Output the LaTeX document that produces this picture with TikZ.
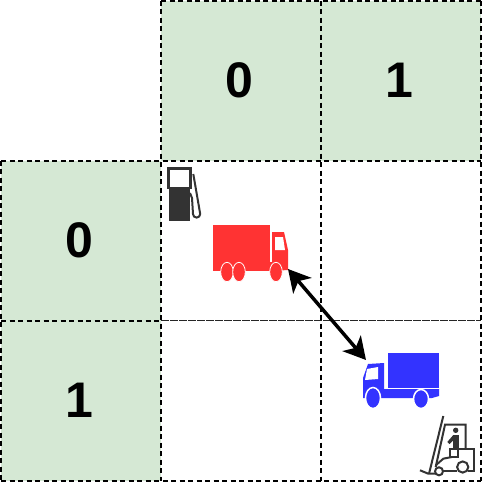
\documentclass[tikz,border=0pt]{standalone}
\usepackage{fontspec}
\setmainfont{Liberation Sans}
\usetikzlibrary{arrows.meta}
\definecolor{headergreen}{HTML}{D5E8D4}
\definecolor{truckred}{HTML}{FF3333}
\definecolor{truckblue}{HTML}{3333FF}
\definecolor{icongray}{HTML}{333333}
\tikzset{
  cell/.style={minimum size=160pt, inner sep=0pt, outer sep=0pt},
  header/.style={cell, fill=headergreen, font=\fontsize{50}{50}\selectfont\bfseries},
  gridline/.style={draw=black, line width=2pt, dash pattern=on 5pt off 3.5pt},
  denseline/.style={draw=black!85, line width=1.5pt, dash pattern=on 8pt off 1pt},
  iconline/.style={draw=icongray, line width=2pt, fill=none},
  linkarrow/.style={{Stealth[length=22pt,width=24pt,inset=6pt]}-{Stealth[length=22pt,width=24pt,inset=6pt]}, line width=3.5pt},
}
\begin{document}
\begin{tikzpicture}[x=1pt,y=-1pt]
\useasboundingbox (0,0) rectangle (482,482);
% Draw header cells
\node[header] (top0) at (241,80.5) {\hspace*{-3pt}0};
\node[header] (top1) at (401,80.5) {\hspace*{-3pt}1};
\node[header] (left0) at (81,240.5) {\hspace*{-3pt}0};
\node[header] (left1) at (81,400.5) {\hspace*{-3pt}1};
% Draw inner cells
\node[cell] (cell00) at (241,240.5) {};
\node[cell] (cell01) at (401,240.5) {};
\node[cell] (cell10) at (241,400.5) {};
\node[cell] (cell11) at (401,400.5) {};
% Draw grid
\draw[gridline] (top0.north west) -- (top1.north east);
\draw[gridline] (left0.north west) -- (cell01.north east);
\draw[gridline] (left1.north west) -- (left1.north east);
\draw[denseline] (cell10.north west) -- (cell11.north east);
\draw[gridline] (left1.south west) -- (cell11.south east);
\draw[gridline] (left0.north west) -- (left1.south west);
\draw[gridline] (top0.north west) -- (cell10.south west);
\draw[gridline] (top1.north west) -- (cell11.south west);
\draw[gridline] (top1.north east) -- (cell11.south east);
% Draw fuel pump
\fill[icongray] (167,167) rectangle (192.3,189);
\fill[white] (170,170) rectangle (189.3,187.3);
\fill[icongray] (169.3,187.3) rectangle (190,220.7);
\draw[iconline] (193.3,174) -- (200.2,214) arc (0:180:3.6) -- (192,198) -- (190,193);
% Draw red truck
\fill[truckred] (213,225) rectangle (270,271);
\fill[truckred] (272,232) -- (284,232) -- (288,250) -- (288,270) -- (272,271) -- (270,271) -- (270,262) -- (272,262) -- cycle;
\fill[white] (275,237) -- (283,237) -- (285,250) -- (275,250) -- cycle;
\fill[truckred, draw=white, line width=0.8pt] (227,272) ellipse [x radius=6.3, y radius=9.7];
\fill[truckred, draw=white, line width=0.8pt] (239,272) ellipse [x radius=6.3, y radius=9.7];
\fill[truckred, draw=white, line width=0.8pt] (276,272) ellipse [x radius=6.3, y radius=9.7];
\coordinate (redtruck) at (288,269);
% Draw blue truck
\fill[truckblue] (388,353) rectangle (439,388);
\fill[truckblue] (384,363) -- (384,389) -- (439,389) -- (439,396) -- (432,398) -- (363,398) -- (363,378) -- (368,364) -- cycle;
\fill[white] (367,369) -- (378,367) -- (378,379) -- (365,380) -- cycle;
\fill[truckblue, draw=white, line width=1.5pt] (373,398) ellipse [x radius=7.5, y radius=10.5];
\fill[truckblue, draw=white, line width=1.5pt] (421,399) ellipse [x radius=7.5, y radius=9.5];
\coordinate (bluetruck) at (366,360);
% Draw forklift
\draw[iconline] (443.3,416) -- (429,473.7);
\draw[iconline] (420,470.3) -- (428.3,473.7) -- (435,473.7);
\draw[iconline] (435.7,467) -- (445,424.7) -- (465.7,424.7) -- (465.7,449.3);
\draw[iconline] (458.3,449.3) -- (474.3,449.3) -- (474.3,471.3) -- (468.3,471.3);
\draw[iconline] (443.3,471.3) -- (456.7,471.3);
\draw[iconline] (435.7,465.3) -- (443.3,458.7) -- (451.7,457);
\draw[iconline] (450,449.3) rectangle (457.7,457);
\fill[icongray] (453.3,434.7) rectangle (459.3,449.3);
\fill[icongray] (447.3,442) -- (453.3,435) -- (454.5,439) -- (449.5,444) -- cycle;
\fill[icongray] (455.7,430.3) circle [radius=2.7];
\fill[white, draw=icongray, line width=2pt] (439,471.3) circle [radius=4];
\fill[white, draw=icongray, line width=2pt] (462.7,467) circle [radius=5.6];
% Draw link between trucks
\draw[linkarrow] (redtruck) -- (bluetruck);
\end{tikzpicture}
\end{document}
